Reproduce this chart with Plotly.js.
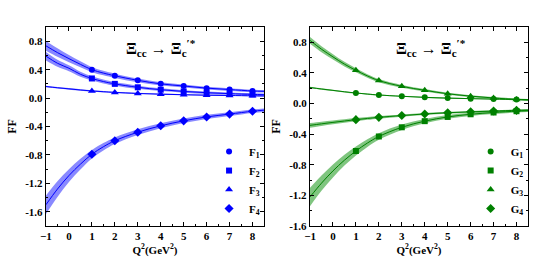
<!DOCTYPE html>
<html>
<head>
<meta charset="utf-8">
<script src="https://cdn.plot.ly/plotly-3.0.1.min.js"></script>
<style>html,body{margin:0;padding:0;background:#fff;}#chart{width:556px;height:272px;}</style>
</head>
<body>
<div id="chart"></div>
<script>
// ---- data ----
var Qc = [-1, -0.5, 0, 0.5, 1, 1.5, 2, 3, 4, 5, 6, 7, 8, 8.5];   // curve samples (GeV^2)
var Qp = [1, 2, 3, 4, 5, 6, 7, 8];                                // point positions

// Left panel: F form factors (curve centre + band half-width)
var F1c = [0.735, 0.64, 0.555, 0.475, 0.40, 0.352, 0.314, 0.25, 0.20, 0.17, 0.14, 0.12, 0.10, 0.095];
var F1e = [0.07, 0.06, 0.05, 0.042, 0.035, 0.032, 0.03, 0.026, 0.023, 0.021, 0.02, 0.019, 0.018, 0.018];
var F2c = [0.59, 0.49, 0.42, 0.335, 0.276, 0.233, 0.20, 0.152, 0.118, 0.094, 0.076, 0.062, 0.052, 0.048];
var F2e = [0.06, 0.05, 0.042, 0.035, 0.03, 0.027, 0.025, 0.022, 0.02, 0.018, 0.017, 0.016, 0.015, 0.015];
var F3c = [0.163, 0.145, 0.13, 0.114, 0.10, 0.09, 0.08, 0.065, 0.055, 0.047, 0.041, 0.036, 0.032, 0.03];
var F3e = [0.012, 0.011, 0.011, 0.01, 0.01, 0.01, 0.009, 0.009, 0.008, 0.008, 0.008, 0.008, 0.008, 0.008];
var F4c = [-1.50, -1.28, -1.09, -0.93, -0.79, -0.685, -0.60, -0.48, -0.39, -0.32, -0.265, -0.225, -0.185, -0.17];
var F4e = [0.13, 0.11, 0.09, 0.075, 0.06, 0.052, 0.046, 0.04, 0.035, 0.032, 0.029, 0.027, 0.025, 0.025];
var F1p = [0.40, 0.314, 0.25, 0.20, 0.17, 0.14, 0.12, 0.10];
var F2p = [0.276, 0.20, 0.152, 0.118, 0.094, 0.076, 0.062, 0.052];
var F3p = [0.10, 0.08, 0.065, 0.055, 0.047, 0.041, 0.036, 0.032];
var F4p = [-0.79, -0.60, -0.48, -0.39, -0.32, -0.265, -0.225, -0.185];

// Right panel: G form factors
var G1c = [0.21, 0.19, 0.172, 0.154, 0.138, 0.124, 0.112, 0.095, 0.081, 0.071, 0.064, 0.058, 0.054, 0.052];
var G1e = [0.01, 0.009, 0.009, 0.008, 0.008, 0.008, 0.007, 0.007, 0.007, 0.007, 0.006, 0.006, 0.006, 0.006];
var G2c = [-1.22, -1.04, -0.88, -0.74, -0.62, -0.516, -0.43, -0.31, -0.23, -0.175, -0.14, -0.117, -0.10, -0.094];
var G2e = [0.12, 0.10, 0.085, 0.07, 0.058, 0.05, 0.043, 0.035, 0.028, 0.024, 0.021, 0.019, 0.017, 0.017];
var G3c = [0.825, 0.71, 0.61, 0.515, 0.434, 0.361, 0.30, 0.225, 0.173, 0.128, 0.097, 0.073, 0.053, 0.046];
var G3e = [0.045, 0.04, 0.035, 0.03, 0.026, 0.023, 0.021, 0.018, 0.016, 0.014, 0.013, 0.012, 0.012, 0.012];
var G4c = [-0.285, -0.265, -0.246, -0.228, -0.21, -0.195, -0.18, -0.157, -0.136, -0.12, -0.108, -0.098, -0.089, -0.086];
var G4e = [0.03, 0.027, 0.024, 0.022, 0.02, 0.018, 0.017, 0.015, 0.014, 0.013, 0.012, 0.012, 0.011, 0.011];
var G1p = [0.138, 0.112, 0.095, 0.081, 0.071, 0.064, 0.058, 0.054];
var G2p = [-0.62, -0.43, -0.31, -0.23, -0.175, -0.14, -0.117, -0.10];
var G3p = [0.434, 0.30, 0.225, 0.173, 0.128, 0.097, 0.073, 0.053];
var G4p = [-0.21, -0.18, -0.157, -0.136, -0.12, -0.108, -0.098, -0.089];

var Fnames = ['F<sub>1</sub>', 'F<sub>2</sub>', 'F<sub>3</sub>', 'F<sub>4</sub>'];
var Gnames = ['G<sub>1</sub>', 'G<sub>2</sub>', 'G<sub>3</sub>', 'G<sub>4</sub>'];
var symbols = ['circle', 'square', 'triangle-up', 'diamond'];
var yTicksL = [-1.6, -1.2, -0.8, -0.4, 0.0, 0.4, 0.8];
var yTicksR = [-1.6, -1.2, -0.8, -0.4, 0.0, 0.4, 0.8];
var xTicks = [-1, 0, 1, 2, 3, 4, 5, 6, 7, 8];

// ---- build traces ----
var FONT = 'Liberation Serif, Times New Roman, serif';
var traces = [];
function addSeries(xa, ya, c, e, p, name, sym, lineCol, bandCol, legendId) {
  var up = c.map(function (v, i) { return v + e[i]; });
  var lo = c.map(function (v, i) { return v - e[i]; });
  traces.push({x: Qc, y: up, xaxis: xa, yaxis: ya, mode: 'lines', line: {width: 0, shape: 'spline', color: bandCol},
               showlegend: false, hoverinfo: 'skip'});
  traces.push({x: Qc, y: lo, xaxis: xa, yaxis: ya, mode: 'lines', line: {width: 0, shape: 'spline', color: bandCol},
               fill: 'tonexty', fillcolor: bandCol, showlegend: false, hoverinfo: 'skip'});
  traces.push({x: Qc, y: c, xaxis: xa, yaxis: ya, mode: 'lines', line: {width: 1, shape: 'spline', color: lineCol},
               showlegend: false});
  traces.push({x: Qp, y: p, xaxis: xa, yaxis: ya, mode: 'markers', name: name, legend: legendId,
               marker: {symbol: sym, size: sym === 'circle' || sym === 'square' ? 6 : 7, color: lineCol}});
}
var Fc = [F1c, F2c, F3c, F4c], Fe = [F1e, F2e, F3e, F4e], Fp = [F1p, F2p, F3p, F4p];
var Gc = [G1c, G2c, G3c, G4c], Ge = [G1e, G2e, G3e, G4e], Gp = [G1p, G2p, G3p, G4p];
for (var i = 0; i < 4; i++) addSeries('x', 'y', Fc[i], Fe[i], Fp[i], Fnames[i], symbols[i], '#0000ff', 'rgba(20,20,255,0.5)', 'legend');
for (var j = 0; j < 4; j++) addSeries('x2', 'y2', Gc[j], Ge[j], Gp[j], Gnames[j], symbols[j], '#008000', 'rgba(0,140,0,0.5)', 'legend2');

function xax(domain, anchor) {
  return {domain: domain, anchor: anchor, range: [-1, 8.5], tickvals: xTicks, ticks: 'inside', ticklen: 4,
          tickwidth: 1, tickcolor: '#000', showline: true, linecolor: '#000', linewidth: 1.2, mirror: 'allticks',
          zeroline: false, showgrid: false,
          minor: {dtick: 0.5, tick0: -1, ticks: 'inside', ticklen: 2, tickcolor: '#000', showgrid: false},
          tickfont: {family: FONT, size: 11, color: '#000', weight: 'bold'},
          title: {text: 'Q<sup>2</sup>(GeV<sup>2</sup>)', standoff: 3, font: {family: FONT, size: 11, color: '#000', weight: 'bold'}}};
}
function yax(domain, anchor, range, tv) {
  return {domain: domain, anchor: anchor, range: range, tickvals: tv, ticktext: tv.map(function (v) { return v.toFixed(1); }),
          ticks: 'inside', ticklen: 4, tickwidth: 1, tickcolor: '#000', showline: true, linecolor: '#000', linewidth: 1.2,
          mirror: 'allticks', zeroline: false, showgrid: false,
          minor: {dtick: 0.2, tick0: 0, ticks: 'inside', ticklen: 2, tickcolor: '#000', showgrid: false},
          tickfont: {family: FONT, size: 11, color: '#000', weight: 'bold'},
          title: {text: 'FF', standoff: 6, font: {family: FONT, size: 12, color: '#000', weight: 'bold'}}};
}

var titleText = 'Ξ<sub>cc</sub> → Ξ<sub>c</sub><sup>′*</sup>';
var layout = {
  width: 556, height: 272, margin: {l: 0, r: 0, t: 0, b: 0}, paper_bgcolor: '#fff', plot_bgcolor: '#fff',
  font: {family: FONT, color: '#000'},
  xaxis: xax([0.0827, 0.4748], 'y'),
  yaxis: yax([0.169, 0.9007], 'x', [-1.8, 1.0], yTicksL),
  xaxis2: xax([0.5576, 0.9496], 'y2'),
  yaxis2: yax([0.169, 0.9007], 'x2', [-1.6, 1.0], yTicksR),
  legend: {x: 0.376, y: 0.338, xanchor: 'left', yanchor: 'middle', bgcolor: 'rgba(0,0,0,0)', traceorder: 'normal',
           font: {family: FONT, size: 11, color: '#000', weight: 'bold'}, itemwidth: 30},
  legend2: {x: 0.8465, y: 0.338, xanchor: 'left', yanchor: 'middle', bgcolor: 'rgba(0,0,0,0)', traceorder: 'normal',
            font: {family: FONT, size: 11, color: '#000', weight: 'bold'}, itemwidth: 30},
  annotations: [
    {xref: 'paper', yref: 'paper', x: 0.29, y: 0.825, xanchor: 'center', yanchor: 'middle', showarrow: false,
     text: titleText, font: {family: FONT, size: 16, color: '#000', weight: 'bold'}},
    {xref: 'paper', yref: 'paper', x: 0.775, y: 0.825, xanchor: 'center', yanchor: 'middle', showarrow: false,
     text: titleText, font: {family: FONT, size: 16, color: '#000', weight: 'bold'}}
  ],
  showlegend: true
};
Plotly.newPlot('chart', traces, layout, {staticPlot: true, displayModeBar: false});
</script>
</body>
</html>
